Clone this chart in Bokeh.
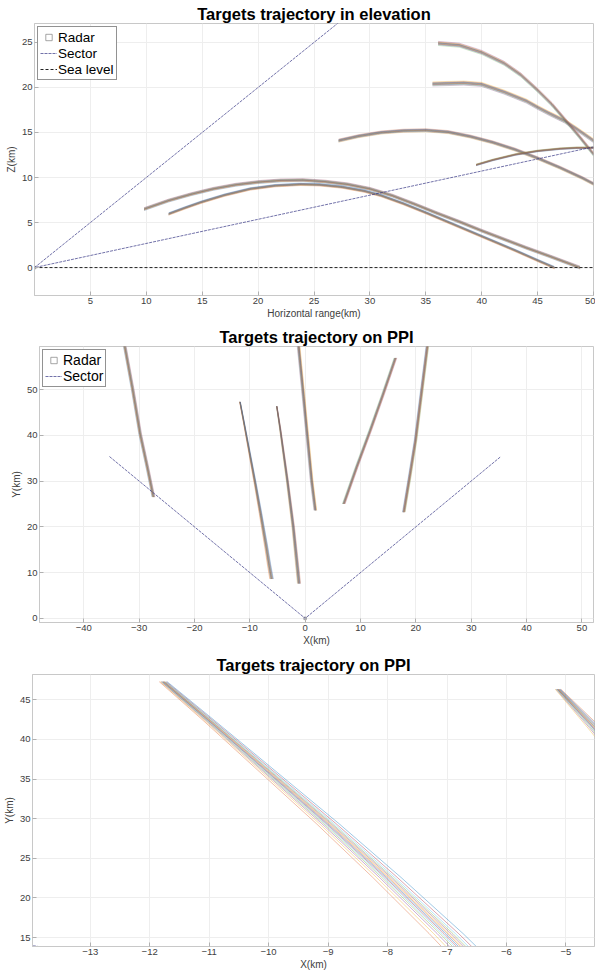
from bokeh.plotting import figure
from bokeh.layouts import column
from bokeh.models import FixedTicker, Range1d
from bokeh.embed import file_html
from bokeh.resources import INLINE

FONT = "Liberation Sans"
PALETTE = ["#0072BD", "#D95319", "#EDB120", "#7E2F8E", "#77AC30", "#4DBEEE", "#A2142F"]

# ---------------- data: elevation view (horizontal range km, altitude km) ----------------
A_r = [9.8, 12, 14, 16, 18, 20, 22, 24, 26, 28, 30, 32, 34, 36, 38, 40, 42, 44, 46, 48.8]
A_z = [6.5, 7.45, 8.15, 8.75, 9.2, 9.5, 9.68, 9.72, 9.55, 9.25, 8.75, 8.0, 7.05, 6.05, 5.1, 4.1, 3.15, 2.2, 1.3, 0.0]
B_r = [12.0, 13.5, 14.9, 17, 19.3, 21.5, 23.8, 25.5, 27.5, 29.5, 31, 33, 35, 37, 39, 41, 43, 45, 46.5]
B_z = [5.96, 6.65, 7.26, 8.05, 8.74, 9.1, 9.25, 9.2, 8.95, 8.5, 8.0, 7.1, 6.1, 5.05, 4.0, 2.95, 1.9, 0.8, 0.0]
C_r = [27.2, 29, 31, 33, 35, 37, 39, 41, 43, 45, 47, 49, 50]
C_z = [14.1, 14.6, 15.0, 15.2, 15.25, 15.05, 14.55, 13.9, 13.1, 12.15, 11.1, 9.95, 9.3]
D_r = [35.6, 38.4, 40, 42, 44, 45, 46, 47.4, 48.5, 50]
D_z = [20.4, 20.5, 20.35, 19.5, 18.5, 17.8, 17.15, 16.3, 15.4, 14.1]
E_r = [36.1, 38, 40, 42, 43.5, 45, 46.3, 47.4, 48.7, 50]
E_z = [24.9, 24.7, 23.9, 22.7, 21.4, 19.7, 18.1, 16.5, 14.6, 12.6]
F_r = [39.5, 41, 43, 45, 47, 48.5, 50]
F_z = [11.4, 11.95, 12.55, 12.95, 13.2, 13.3, 13.3]
elev_spread = {"A": 0.17, "B": 0.14, "C": 0.18, "D": 0.24, "E": 0.24, "F": 0.1}

sector_elev_r = [30, 0, 50]
sector_elev_z = [30, 0, 13.4]
sea_r = [0, 50]
sea_z = [0, 0]
radar_x = [0]
radar_y = [0]

# ---------------- data: PPI view (X km, Y km) ----------------
T1_x = [-27.4, -28.5, -29.8, -31.15, -32.5, -32.75]
T1_y = [26.5, 33.0, 40.3, 50.0, 58.9, 60.5]
T2_x = [-11.77, -11.0, -10.0, -9.0, -8.0, -7.0, -6.5, -6.05]
T2_y = [47.3, 42.4, 35.9, 29.4, 22.6, 15.5, 11.7, 8.6]
T2_spread = [0.07, 0.1, 0.15, 0.2, 0.25, 0.3, 0.32, 0.34]
T3_x = [-5.13, -4.5, -3.2, -2.15, -1.3, -1.1]
T3_y = [46.35, 41.35, 30.0, 20.0, 10.0, 7.6]
T3_spread = [0.05, 0.12, 0.2, 0.25, 0.3, 0.3]
T4_x = [1.86, 1.2, 0.4, -0.4, -1.15, -1.25]
T4_y = [23.6, 30.0, 40.0, 50.0, 59.2, 60.5]
T5_x = [6.98, 9.3, 11.75, 14.1, 16.33]
T5_y = [25.0, 33.0, 41.0, 49.0, 56.9]
T6_x = [17.83, 18.9, 19.95, 21.1, 22.06, 22.2]
T6_y = [23.2, 31.0, 38.9, 50.0, 59.2, 60.5]
ppi_spread = 0.26

sector_ppi_x = [-35.36, 0, 35.36]
sector_ppi_y = [35.36, 0, 35.36]

# relative position of each Monte-Carlo member inside a bundle
member_k = [-1.0, -0.75, -0.55, -0.4, -0.28, -0.17, -0.07, 0.03, 0.12, 0.22, 0.33, 0.47, 0.65, 0.9]


def draw_bundle(p, xs, ys, spread, along, shift=0, width=0.45, alpha=0.6):
    if not isinstance(spread, list):
        spread = [spread] * len(xs)
    for i, k in enumerate(member_k):
        if along == "x":
            mx = [x + k * s for x, s in zip(xs, spread)]
            my = ys
        else:
            mx = xs
            my = [y + k * s for y, s in zip(ys, spread)]
        p.line(mx, my, line_color=PALETTE[(i + shift) % 7], line_alpha=alpha, line_width=width)


def make_fig(title, h, mb, xr, yr, xticks, yticks, xlabel, ylabel):
    p = figure(width=595, height=h, output_backend="svg", toolbar_location=None,
               x_range=Range1d(*xr), y_range=Range1d(*yr), frame_align=False,
               min_border_left=mb[0], min_border_right=mb[1], min_border_top=mb[2], min_border_bottom=mb[3],
               title=title)
    p.title.text_font = FONT
    p.title.text_font_size = "16.5px"
    p.title.text_font_style = "bold"
    p.title.align = "center"
    p.title.text_color = "#000000"
    p.title.standoff = 2
    p.outline_line_color = "#c8c8c8"
    p.background_fill_color = "white"
    p.border_fill_color = "white"
    for ax, ticks, lab in ((p.xaxis[0], xticks, xlabel), (p.yaxis[0], yticks, ylabel)):
        ax.ticker = FixedTicker(ticks=ticks)
        ax.axis_label = lab
        ax.axis_label_text_font = FONT
        ax.axis_label_text_font_size = "10px"
        ax.axis_label_text_font_style = "normal"
        ax.axis_label_text_color = "#404040"
        ax.major_label_text_font = FONT
        ax.major_label_text_font_size = "9.5px"
        ax.major_label_text_color = "#404040"
        ax.axis_line_color = "#c8c8c8"
        ax.major_tick_in = 4
        ax.major_tick_out = 0
        ax.major_tick_line_color = "#b0b0b0"
        ax.minor_tick_line_color = None
        ax.major_label_standoff = 2
    p.xaxis[0].axis_label_standoff = 1
    p.yaxis[0].axis_label_standoff = 2
    p.xgrid.grid_line_color = "#eeeeee"
    p.ygrid.grid_line_color = "#eeeeee"
    return p


def style_legend(p, fs):
    lg = p.legend[0]
    lg.location = "top_left"
    lg.margin = 3
    lg.padding = 2
    lg.spacing = 0
    lg.label_height = 16
    lg.glyph_height = 16
    lg.glyph_width = 17
    lg.label_standoff = 1
    lg.label_text_font = FONT
    lg.label_text_font_size = fs
    lg.label_text_color = "#000000"
    lg.border_line_color = "#262626"
    lg.border_line_width = 0.7
    lg.background_fill_alpha = 1


SECTOR_STYLE = dict(line_color="#2e2e80", line_alpha=0.85, line_width=0.8, line_dash="3 1")

# ---------------- panel 1: elevation ----------------
p1 = make_fig("Targets trajectory in elevation", 322, (34, 2, 23, 27), (0, 50), (-3.1, 27.1),
              [5, 10, 15, 20, 25, 30, 35, 40, 45, 50], [0, 5, 10, 15, 20, 25],
              "Horizontal range(km)", "Z(km)")
for j, (r, z, key) in enumerate(((A_r, A_z, "A"), (B_r, B_z, "B"), (C_r, C_z, "C"),
                                 (D_r, D_z, "D"), (E_r, E_z, "E"), (F_r, F_z, "F"))):
    draw_bundle(p1, r, z, elev_spread[key], "y", shift=j)
p1.scatter(radar_x, radar_y, marker="square", size=2.5, fill_color=None, line_color="#808080",
           line_width=0.7, legend_label="Radar")
p1.line(sector_elev_r, sector_elev_z, legend_label="Sector", **SECTOR_STYLE)
p1.line(sea_r, sea_z, line_color="#222222", line_width=1, line_dash="3 2", legend_label="Sea level")
style_legend(p1, "13.5px")

# ---------------- panel 2: PPI ----------------
p2 = make_fig("Targets trajectory on PPI", 330, (39, 2, 24, 30), (-48, 52.1), (-0.9, 59.4),
              [-40, -30, -20, -10, 0, 10, 20, 30, 40, 50], [0, 10, 20, 30, 40, 50],
              "X(km)", "Y(km)")
bundles_ppi = ((T1_x, T1_y, ppi_spread), (T2_x, T2_y, T2_spread), (T3_x, T3_y, T3_spread),
               (T4_x, T4_y, ppi_spread), (T5_x, T5_y, ppi_spread), (T6_x, T6_y, ppi_spread))
for j, (x, y, s) in enumerate(bundles_ppi):
    draw_bundle(p2, x, y, s, "x", shift=j)
p2.scatter(radar_x, radar_y, marker="square", size=2.5, fill_color=None, line_color="#808080",
           line_width=0.7, legend_label="Radar")
p2.line(sector_ppi_x, sector_ppi_y, legend_label="Sector", **SECTOR_STYLE)
style_legend(p2, "14px")

# ---------------- panel 3: PPI zoom ----------------
p3 = make_fig("Targets trajectory on PPI", 321, (32, 1, 22, 27), (-13.97, -4.52), (13.87, 48.2),
              [-13, -12, -11, -10, -9, -8, -7, -6, -5], [15, 20, 25, 30, 35, 40, 45],
              "X(km)", "Y(km)")
for j, (x, y, s) in enumerate(bundles_ppi):
    draw_bundle(p3, x, y, s, "x", shift=j, width=0.7, alpha=0.55)
p3.scatter(radar_x, radar_y, marker="square", size=2.5, fill_color=None, line_color="#808080")
p3.line(sector_ppi_x, sector_ppi_y, **SECTOR_STYLE)

layout = column(p1, p2, p3, spacing=0)
open("out.html", "w").write(file_html(layout, INLINE))
